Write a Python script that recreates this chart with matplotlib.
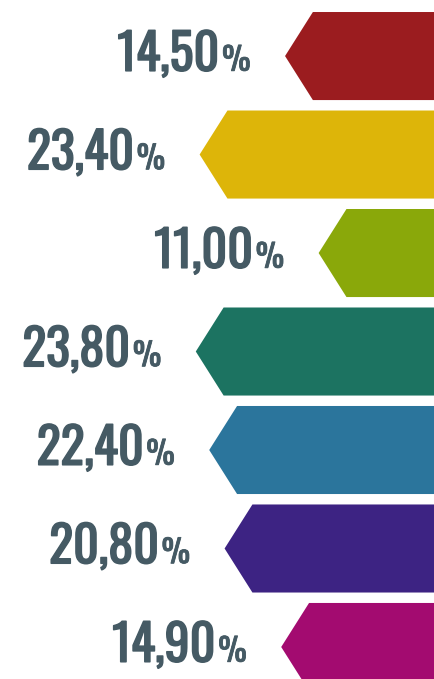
import matplotlib
matplotlib.use("Agg")
import matplotlib.pyplot as plt
import matplotlib.patheffects as pe
from matplotlib.patches import Polygon
from matplotlib import font_manager

values = [14.5, 23.4, 11.0, 23.8, 22.4, 20.8, 14.9]
labels = ["14,50", "23,40", "11,00", "23,80", "22,40", "20,80", "14,90"]
colors = ["#9B1C1F", "#DDB509", "#8AA80A", "#1C7361", "#2B759C", "#3D2383", "#A30B70"]
TEXT = "#455A64"

names = {f.name for f in font_manager.fontManager.ttflist}
FAMILY = next((n for n in ["Oswald", "Roboto Condensed", "Barlow Condensed", "Asap Condensed"]
               if n in names), "DejaVu Sans")

fig = plt.figure(figsize=(4.34, 6.79), dpi=100)
ax = fig.add_axes([0, 0, 1, 1])
ax.set_xlim(44.2, -1.02)   # bars grow leftwards from the right edge
ax.set_ylim(6.325, -0.569)
ax.axis("off")

H = 0.447      # half bar height
NOTCH = 2.9    # depth of the arrow point
GAP = 3.6      # label gap before the tip
renderer = fig.canvas.get_renderer()
for i, (v, lab, c) in enumerate(zip(values, labels, colors)):
    pts = [(-5, i - H), (v - NOTCH, i - H), (v, i), (v - NOTCH, i + H), (-5, i + H)]
    ax.add_patch(Polygon(pts, closed=True, color=c, lw=0))
    pct = ax.text(v + GAP, i + 0.15, "%", ha="right", va="baseline", color=TEXT,
                  fontsize=23, fontweight="bold", family=FAMILY,
                  path_effects=[pe.withStroke(linewidth=0.6, foreground=TEXT)])
    w = pct.get_window_extent(renderer).width
    ax.annotate(lab, (v + GAP, i + 0.15), xytext=(-(w + 3) * 0.72, 0),
                textcoords="offset points", ha="right", va="baseline", color=TEXT,
                fontsize=36, fontweight="bold", family=FAMILY,
                path_effects=[pe.withStroke(linewidth=1.1, foreground=TEXT)])

fig.savefig("out.png", dpi=100)
